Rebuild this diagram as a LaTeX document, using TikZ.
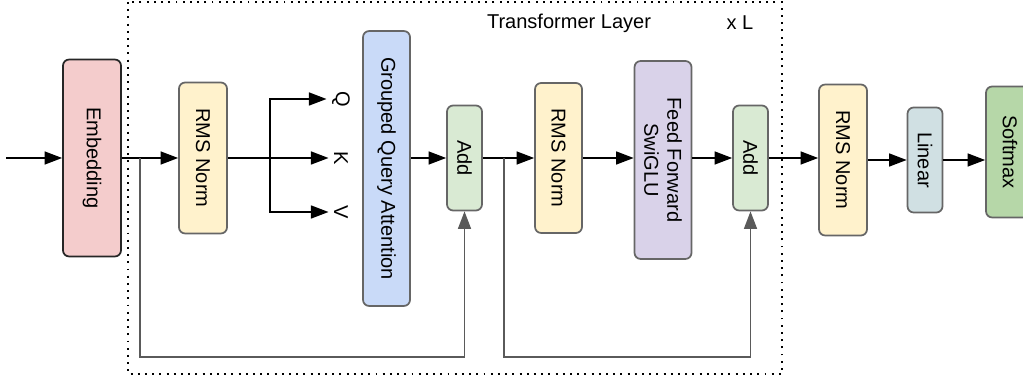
\documentclass[tikz,border=0pt]{standalone}
\usepackage{fontspec}
\setmainfont{Liberation Sans}
\usetikzlibrary{arrows.meta}

\definecolor{embfill}{HTML}{F4CCCC}
\definecolor{normfill}{HTML}{FFF2CC}
\definecolor{attnfill}{HTML}{C9DAF8}
\definecolor{addfill}{HTML}{D9EAD3}
\definecolor{ffnfill}{HTML}{D9D2E9}
\definecolor{linfill}{HTML}{D0E0E3}
\definecolor{smfill}{HTML}{B6D7A8}
\definecolor{edgegray}{HTML}{666666}
\definecolor{skipgray}{HTML}{5A5A5A}

\tikzset{
  txt/.style={font=\fontsize{11.4}{13.1}\selectfont},
  block/.style={txt, draw=edgegray, line width=1pt, rounded corners=3.5pt,
    rotate=-90, align=center, inner sep=0pt},
  lbl/.style={txt, rotate=-90, inner sep=3pt},
  arr/.style={line width=0.9pt, -{Triangle[length=10pt,width=7.4pt]}},
  skiparr/.style={arr, draw=skipgray},
  layerframe/.style={line width=1.1pt, dash pattern=on 1.1pt off 3pt}
}

\begin{document}
\begin{tikzpicture}[x=0.02cm, y=-0.02cm]
        \useasboundingbox (0,0) rectangle (1023,381);

        % transformer layer frame
        \draw[layerframe] (128,2) rectangle (782,374);
        \node[txt] (title) at (569,23) {Transformer Layer};
        \node[txt] (times) at (740,23) {x L};

        % blocks (rotated: .south is the left side, .north the right side)
        \node[block, draw=black!85, fill=embfill, minimum width=3.94cm, minimum height=1.16cm] (emb) at (92,158) {Embedding};
        \node[block, fill=normfill, minimum width=3.02cm, minimum height=0.96cm] (rms1) at (203,158) {RMS Norm};
        \node[block, fill=attnfill, minimum width=5.5cm, minimum height=0.94cm] (gqa) at (386.5,168.5) {Grouped Query Attention};
        \node[block, fill=addfill, minimum width=2.1cm, minimum height=0.7cm] (add1) at (464.5,158) {Add};
        \node[block, fill=normfill, minimum width=3.0cm, minimum height=0.94cm] (rms2) at (558.5,158) {RMS Norm};
        \node[block, fill=ffnfill, minimum width=3.96cm, minimum height=1.14cm] (ffn) at (663,160) {Feed Forward\\SwiGLU};
        \node[block, fill=addfill, minimum width=2.1cm, minimum height=0.7cm] (add2) at (750.5,158) {Add};
        \node[block, fill=normfill, minimum width=3.02cm, minimum height=0.96cm] (rms3) at (843,160) {RMS Norm};
        \node[block, fill=linfill, minimum width=2.1cm, minimum height=0.7cm] (lin) at (925,160) {Linear};
        \node[block, fill=smfill, minimum width=2.62cm, minimum height=0.96cm] (sm) at (1010,152) {Softmax};

        % q, k, v
        \node[lbl] (q) at (341,99) {Q};
        \node[lbl] (k) at (341,158) {K};
        \node[lbl] (v) at (341,212) {V};

        \coordinate (in) at (6,158);
        \coordinate (fork) at (270,158);
        \coordinate (skip1) at (140,158);
        \coordinate (low1) at (140,357);
        \coordinate (skip2) at (504,158);
        \coordinate (low2) at (504,357);

        % main path
        \draw[arr] (in) -- (emb.south);
        \draw[arr] (emb.north) -- (rms1.south);
        \draw[arr] (rms1.north) -- (k.south);
        \draw[arr] (fork) |- (q.south);
        \draw[arr] (fork) |- (v.south);
        \draw[arr] (gqa.north |- add1.south) -- (add1.south);
        \draw[arr] (add1.north) -- (rms2.south);
        \draw[arr] (rms2.north) -- (rms2.north -| ffn.south);
        \draw[arr] (ffn.north |- add2.south) -- (add2.south);
        \draw[arr] (add2.north) -- (add2.north -| rms3.south);
        \draw[arr] (rms3.north) -- (rms3.north -| lin.south);
        \draw[arr] (lin.north) -- (lin.north -| sm.south);

        % residual connections
        \draw[skiparr] (skip1) -- (low1) -| (add1.east);
        \draw[skiparr] (skip2) -- (low2) -| (add2.east);
\end{tikzpicture}
\end{document}
